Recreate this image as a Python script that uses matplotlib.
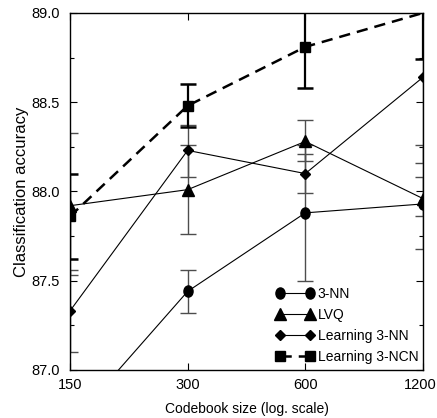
import matplotlib
matplotlib.use("Agg")
import matplotlib.pyplot as plt
from matplotlib.path import Path
from matplotlib.transforms import ScaledTranslation
from matplotlib.ticker import FixedLocator, FixedFormatter, NullFormatter, NullLocator

plt.rcParams['font.family'] = ['Liberation Sans', 'DejaVu Sans']

# codebook sizes
sizes = [150, 300, 600, 1200]

# 3-NN
nn3 = [86.69, 87.44, 87.88, 87.93]
nn3_lo = [86.57, 87.32, 87.50, 87.86]
nn3_hi = [86.81, 87.56, 88.26, 88.08]

# LVQ
lvq = [87.92, 88.01, 88.28, 87.96]
lvq_lo = [87.53, 87.76, 88.17, 87.68]
lvq_hi = [88.33, 88.26, 88.40, 88.26]

# Learning 3-NN
l3nn = [87.33, 88.23, 88.10, 88.64]
l3nn_lo = [87.10, 88.08, 87.99, 88.16]
l3nn_hi = [87.56, 88.37, 88.21, 89.12]

# Learning 3-NCN
l3ncn = [87.86, 88.48, 88.81, 89.00]
l3ncn_lo = [87.62, 88.36, 88.58, 88.74]
l3ncn_hi = [88.10, 88.60, 89.04, 89.26]

labels = ["3-NN", "LVQ", "Learning 3-NN", "Learning 3-NCN"]

# slightly tall ellipse like the gnuplot circle
circ = Path.unit_circle()
ellipse = Path(circ.vertices * [0.82, 1.0], circ.codes)


def yerr(vals, lo, hi):
    return [[v - l for v, l in zip(vals, lo)], [h - v for v, h in zip(vals, hi)]]


fig = plt.figure(figsize=(4.37, 4.18), dpi=100)
ax = fig.add_axes([0.160, 0.115, 0.808, 0.854])

thin_err = dict(ecolor='0.3', elinewidth=1.0, capsize=6, capthick=1.0)

e1 = ax.errorbar(sizes, nn3, yerr=yerr(nn3, nn3_lo, nn3_hi), color='black', lw=0.8,
                 marker=ellipse, ms=8, **thin_err)
e2 = ax.errorbar(sizes, lvq, yerr=yerr(lvq, lvq_lo, lvq_hi), color='black', lw=0.8,
                 marker='^', ms=8, **thin_err)
e3 = ax.errorbar(sizes, l3nn, yerr=yerr(l3nn, l3nn_lo, l3nn_hi), color='black', lw=0.8,
                 marker='D', ms=5.2, **thin_err)
e4 = ax.errorbar(sizes, l3ncn, yerr=yerr(l3ncn, l3ncn_lo, l3ncn_hi), color='black', lw=1.8,
                 ls=(0, (4.5, 2.8)), marker='s', ms=6.5, markevery=[0, 1, 2],
                 ecolor='black', elinewidth=1.6, capsize=6, capthick=1.8)

ax.set_xscale('log', base=2)
ax.set_xlim(150, 1200)
ax.set_ylim(87.0, 89.0)
ax.xaxis.set_major_locator(FixedLocator(sizes))
ax.xaxis.set_major_formatter(FixedFormatter([str(s) for s in sizes]))
ax.xaxis.set_minor_locator(NullLocator())
ax.xaxis.set_minor_formatter(NullFormatter())
ax.set_yticks([87.0, 87.5, 88.0, 88.5, 89.0])
ax.set_yticks([87.25, 87.75, 88.25, 88.75], minor=True)
ax.set_yticklabels(["87.0", "87.5", "88.0", "88.5", "89.0"])

ax.tick_params(which='both', direction='in', top=True, right=True, labelsize=10.5)
ax.tick_params(which='major', length=5, width=0.8)
ax.tick_params(which='minor', length=3, width=0.8)
ax.tick_params(axis='x', pad=5.5)
ax.tick_params(axis='y', pad=7)
for sp in ax.spines.values():
    sp.set_linewidth(1.0)

# keep the last x label inside the picture
fig.canvas.draw()
last = ax.get_xticklabels()[-1]
last.set_transform(last.get_transform() + ScaledTranslation(-3 / 100, 0, fig.dpi_scale_trans))

ax.set_xlabel("Codebook size (log. scale)", fontsize=10, labelpad=7.5)
ax.set_ylabel("Classification accuracy", fontsize=12, labelpad=2)

ax.legend([e1[0], e2[0], e3[0], e4[0]], labels, loc='lower left',
          bbox_to_anchor=(0.583, 0.017), frameon=False, fontsize=10,
          numpoints=2, handlelength=2.76, handletextpad=0.27, labelspacing=0.5,
          borderaxespad=0.0, borderpad=0.0)

fig.savefig("out.png", dpi=100)
